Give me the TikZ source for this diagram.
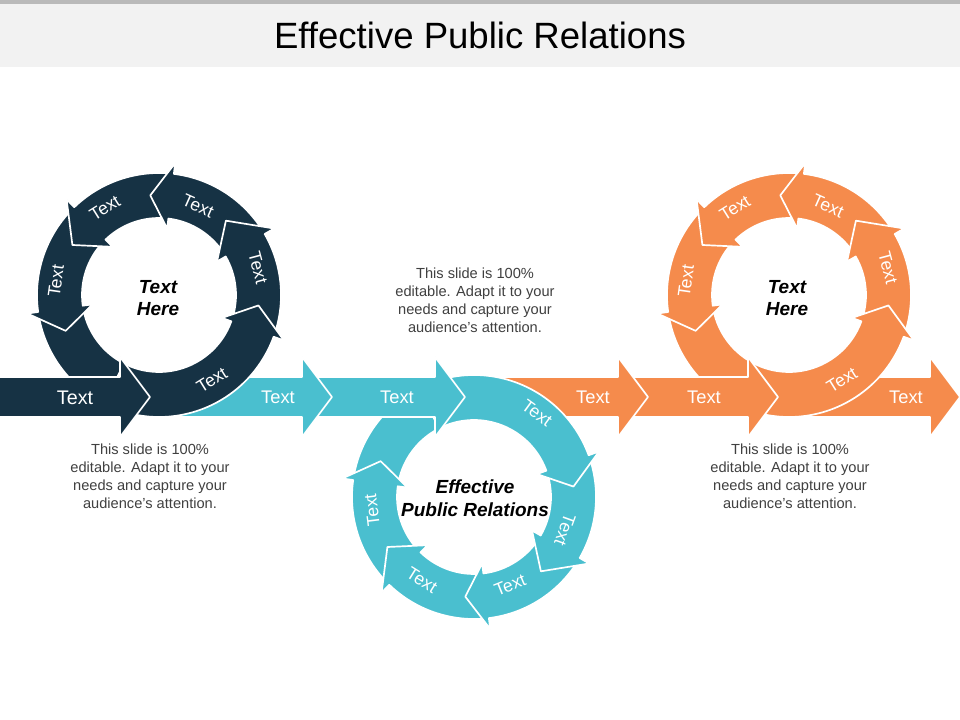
\documentclass[tikz,border=0pt]{standalone}
\usepackage{fontspec}
\setmainfont{Liberation Sans}
\definecolor{navyring}{RGB}{22,50,68}
\definecolor{tealring}{RGB}{74,191,207}
\definecolor{orangering}{RGB}{245,139,76}
\definecolor{notegray}{RGB}{64,64,64}
\tikzset{
  piece/.style={draw=white, line width=1.2pt, line join=round},
  lbl/.style={text=white, inner sep=0pt, font=\fontsize{12.5}{14}\selectfont},
  flatlbl/.style={text=white, inner sep=0pt, font=\fontsize{13}{15}\selectfont},
  hub/.style={align=center, font=\fontsize{13.5}{16}\selectfont\bfseries\itshape},
  note/.style={align=center, text=notegray, font=\fontsize{10.4}{12.8}\selectfont}
}
\newcommand{\ringpiece}[4]{%
  \filldraw[piece, fill=#1] (#2:77) -- (#2:122)
    arc[start angle=#2, end angle=#3, radius=122]
    -- (#3:133) -- (#4:100) -- (#3:67) -- (#3:77)
    arc[start angle=#3, end angle=#2, radius=77] -- cycle;}
\newcommand{\ringtail}[3]{%
  \filldraw[piece, fill=#1] (#2:77) -- (#2:122)
    arc[start angle=#2, end angle=#3, radius=122] -- (#3:77)
    arc[start angle=#3, end angle=#2, radius=77] -- cycle;}
\newcommand{\wheel}[1]{%
  \ringtail{#1}{190}{250}
  \ringpiece{#1}{136}{188}{201}
  \ringpiece{#1}{85}{134}{150}
  \ringpiece{#1}{32}{83}{95}
  \ringpiece{#1}{-18}{30}{48}
  \ringpiece{#1}{243}{340}{354}}
\newcommand{\flatarrow}[3]{%
  \filldraw[piece, fill=#1] (#2,-377) -- ({#3-30},-377) -- ({#3-30},-357)
    -- (#3,-397) -- ({#3-30},-437) -- ({#3-30},-417) -- (#2,-417) -- cycle;}

\begin{document}
\begin{tikzpicture}[x=0.025cm, y=0.025cm]
  \useasboundingbox (0,0) rectangle (960,-720);
  \fill[white] (0,0) rectangle (960,-720);
  \fill[black!5] (0,0) rectangle (960,-67);
  \fill[black!27] (0,0) rectangle (960,-4);
  \node[font=\fontsize{26}{30}\selectfont] (title) at (480,-35) {Effective Public Relations};

  \flatarrow{orangering}{789}{960}
  \begin{scope}[shift={(789,-295)}]
    \wheel{orangering}
  \end{scope}
  \flatarrow{orangering}{622}{778}
  \flatarrow{orangering}{474}{648}
  \begin{scope}[shift={(474,-497)}, yscale=-1]
    \wheel{tealring}
  \end{scope}
  \flatarrow{tealring}{310}{465}
  \flatarrow{tealring}{159}{332}
  \begin{scope}[shift={(159,-295)}]
    \wheel{navyring}
  \end{scope}
  \flatarrow{navyring}{-5}{150}

  \node[flatlbl, font=\fontsize{14}{16}\selectfont] (navyin) at (75,-398) {Text};
  \node[flatlbl] (tealout) at (278,-397) {Text};
  \node[flatlbl] (tealin) at (397,-397) {Text};
  \node[flatlbl] (orangeout) at (593,-397) {Text};
  \node[flatlbl] (orangein) at (704,-397) {Text};
  \node[flatlbl] (orangeend) at (906,-397) {Text};

  \node[lbl, rotate=32] (navyA) at (212,-380) {Text};
  \node[lbl, rotate=-75] (navyB) at (258,-268) {Text};
  \node[lbl, rotate=-24] (navyC) at (198,-206) {Text};
  \node[lbl, rotate=32] (navyD) at (105,-208) {Text};
  \node[lbl, rotate=82] (navyE) at (56,-281) {Text};

  \node[lbl, rotate=-36] (tealA) at (537,-413) {Text};
  \node[lbl, rotate=-110] (tealB) at (565,-530) {Text};
  \node[lbl, rotate=22] (tealC) at (510,-585) {Text};
  \node[lbl, rotate=-32] (tealD) at (422,-580) {Text};
  \node[lbl, rotate=97] (tealE) at (372,-510) {Text};

  \node[lbl, rotate=32] (orangeA) at (842,-380) {Text};
  \node[lbl, rotate=-75] (orangeB) at (888,-268) {Text};
  \node[lbl, rotate=-24] (orangeC) at (828,-206) {Text};
  \node[lbl, rotate=32] (orangeD) at (735,-208) {Text};
  \node[lbl, rotate=82] (orangeE) at (686,-281) {Text};

  \node[hub] (navyhub) at (158,-298) {Text\\Here};
  \node[hub] (tealhub) at (475,-498) {Effective\\Public Relations};
  \node[hub] (orangehub) at (787,-298) {Text\\Here};

  \node[note] (midnote) at (475,-300) {This slide is 100\%\\editable. Adapt it to your\\needs and capture your\\audience's attention.};
  \node[note] (leftnote) at (150,-476) {This slide is 100\%\\editable. Adapt it to your\\needs and capture your\\audience's attention.};
  \node[note] (rightnote) at (790,-476) {This slide is 100\%\\editable. Adapt it to your\\needs and capture your\\audience's attention.};
\end{tikzpicture}
\end{document}
